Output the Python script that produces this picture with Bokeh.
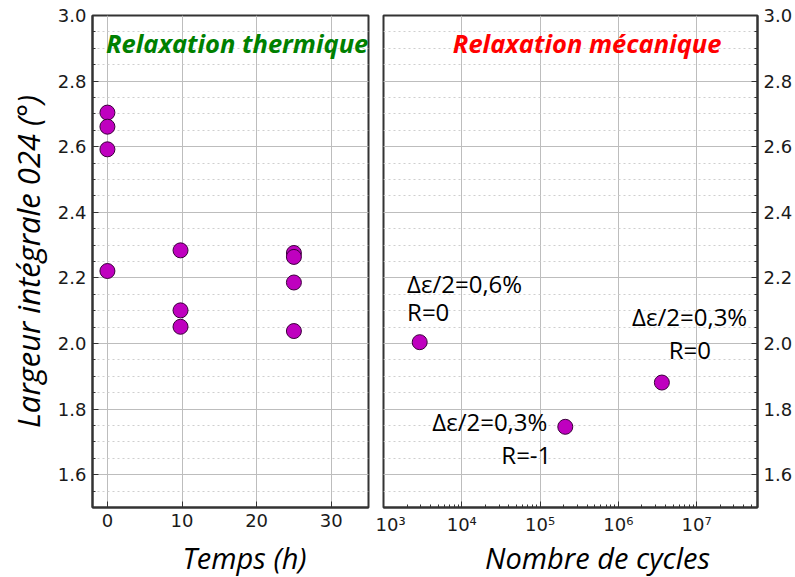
from bokeh.plotting import figure
from bokeh.layouts import row, column
from bokeh.models import Range1d, FixedTicker, Label, CustomJSTickFormatter, NumeralTickFormatter
from bokeh.embed import file_html
from bokeh.resources import INLINE

# ---- data ----
therm_time = [0, 0, 0, 0, 9.8, 9.8, 9.8, 25, 25, 25, 25]
therm_width = [2.704, 2.661, 2.592, 2.221, 2.284, 2.101, 2.051, 2.276, 2.264, 2.186, 2.038]
mech_cycles = [2.9e3, 2.1e5, 3.6e6]
mech_width = [2.004, 1.746, 1.881]
y_ticks = [1.6, 1.8, 2.0, 2.2, 2.4, 2.6, 2.8, 3.0]
y_minor = [1.5 + 0.05 * i for i in range(31)]
left_x_ticks = [0, 10, 20, 30]
right_x_ticks = [1e3, 1e4, 1e5, 1e6, 1e7]
right_x_minor = [m * 10 ** e for e in range(3, 8) for m in range(2, 10)]

ann_text = ["Δε/2=0,6%", "R=0", "Δε/2=0,3%", "R=0", "Δε/2=0,3%", "R=-1"]
ann_x = [2.0e3, 2.0e3, 1.5e6, 4.4e6, 4.2e3, 3.2e4]
ann_y = [2.184, 2.097, 2.082, 1.983, 1.761, 1.662]

FILL = "#bf00bf"
EDGE = "#3a003a"
GRID = "#bdbdbd"
MINOR = "#cfcfcf"
TICKFONT = "DejaVu Sans"
TXTFONT = "Open Sans"

H = 537      # main panels
HT = 40      # strip holding the x-axis titles
TOP = 15
BOT = 27
WL, WR = 375, 420


def style(p):
    p.outline_line_color = "#333333"
    p.outline_line_width = 2
    p.background_fill_color = "white"
    p.border_fill_color = "white"
    for ax in p.axis:
        ax.major_tick_in = 6
        ax.major_tick_out = 0
        ax.minor_tick_in = 3
        ax.minor_tick_out = 0
        ax.axis_line_color = "#333333"
        ax.axis_line_width = 2
        ax.major_tick_line_color = "#333333"
        ax.minor_tick_line_color = "#333333"
        ax.major_label_text_font = TICKFONT
        ax.major_label_text_font_size = "18px"
        ax.major_label_text_color = "#1a1a1a"
        ax.major_label_standoff = 6
    p.xgrid.grid_line_color = GRID
    p.xgrid.grid_line_width = 1
    p.ygrid.grid_line_color = GRID
    p.ygrid.grid_line_width = 1
    p.ygrid.minor_grid_line_color = MINOR
    p.ygrid.minor_grid_line_dash = "2 3"
    p.ygrid.minor_grid_line_width = 1


def title_strip(width, xc, text):
    t = figure(width=width, height=HT, x_range=Range1d(0, width), y_range=Range1d(0, HT),
               output_backend="svg", toolbar_location=None,
               x_axis_location=None, y_axis_location=None,
               min_border=0, min_border_left=0, min_border_right=0,
               min_border_top=0, min_border_bottom=0)
    t.outline_line_color = None
    t.xgrid.visible = False
    t.ygrid.visible = False
    t.add_layout(Label(x=xc, y=HT / 2, text=text, text_font=TXTFONT, text_font_style="italic",
                       text_font_size="29px", text_color="black",
                       text_align="center", text_baseline="middle"))
    return t


# ---- left panel ----
p1 = figure(width=WL, height=H, x_range=Range1d(-2, 35), y_range=Range1d(1.5, 3.0),
            output_backend="svg", toolbar_location=None,
            min_border_left=92, min_border_right=7, min_border_top=TOP, min_border_bottom=BOT)
p1.xaxis.ticker = FixedTicker(ticks=left_x_ticks)
p1.yaxis.ticker = FixedTicker(ticks=y_ticks, minor_ticks=y_minor)
p1.yaxis.formatter = NumeralTickFormatter(format="0.0")
p1.yaxis.axis_label = "Largeur intégrale 024 (°)"
style(p1)
p1.yaxis.axis_label_text_font = TXTFONT
p1.yaxis.axis_label_text_font_style = "italic"
p1.yaxis.axis_label_text_font_size = "31px"
p1.yaxis.axis_label_text_color = "black"
p1.yaxis.axis_label_standoff = 6
p1.scatter(therm_time, therm_width, size=15, fill_color=FILL, line_color=EDGE, line_width=1)
p1.add_layout(Label(x=-0.2, y=2.916, text="Relaxation thermique", text_font=TXTFONT,
                    text_font_style="bold italic", text_font_size="25.5px", text_color="#008000",
                    text_baseline="middle", text_align="left"))

# ---- right panel ----
p2 = figure(width=WR, height=H, x_axis_type="log", x_range=Range1d(1e3, 6e7),
            y_range=Range1d(1.5, 3.0), y_axis_location="right",
            output_backend="svg", toolbar_location=None,
            min_border_left=8, min_border_right=36, min_border_top=TOP, min_border_bottom=BOT)
p2.xaxis.ticker = FixedTicker(ticks=right_x_ticks, minor_ticks=right_x_minor)
p2.xaxis.formatter = CustomJSTickFormatter(code="""
const sup = {'0':'\u2070','1':'\u00b9','2':'\u00b2','3':'\u00b3','4':'\u2074','5':'\u2075','6':'\u2076','7':'\u2077','8':'\u2078','9':'\u2079','-':'\u207b'};
const e = Math.round(Math.log10(tick));
return '10' + String(e).split('').map(c => sup[c]).join('');
""")
p2.yaxis.ticker = FixedTicker(ticks=y_ticks, minor_ticks=y_minor)
p2.yaxis.formatter = NumeralTickFormatter(format="0.0")
style(p2)
p2.scatter(mech_cycles, mech_width, size=15, fill_color=FILL, line_color=EDGE, line_width=1)
p2.add_layout(Label(x=4.0e5, y=2.916, text="Relaxation mécanique", text_font=TXTFONT,
                    text_font_style="bold italic", text_font_size="25.5px", text_color="#ff0000",
                    text_baseline="middle", text_align="center"))
for t, x, y in zip(ann_text, ann_x, ann_y):
    p2.add_layout(Label(x=x, y=y, text=t, text_font=TXTFONT, text_font_size="24px",
                        text_color="black", text_baseline="middle", text_align="left"))

t1 = title_strip(WL, 244, "Temps (h)")
t2 = title_strip(WR, 222, "Nombre de cycles")

layout = column(row(p1, p2, spacing=0), row(t1, t2, spacing=0), spacing=0)
open("out.html", "w").write(file_html(layout, INLINE))
